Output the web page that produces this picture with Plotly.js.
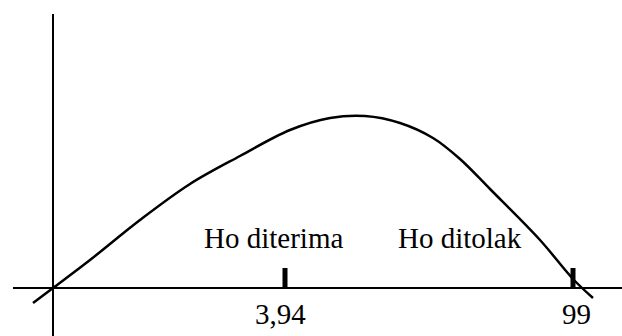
<!DOCTYPE html>
<html>
<head>
<meta charset="utf-8">
<script src="https://cdn.plot.ly/plotly-3.0.1.min.js"></script>
<style>
  html, body { margin: 0; padding: 0; background: #fff; }
  #chart { width: 622px; height: 336px; }
</style>
</head>
<body>
<div id="chart"></div>
<script>
// Sketch of the test-statistic distribution with the acceptance / rejection regions
const curveX = [-20, 0, 37, 87, 137, 187, 237, 277, 312, 347, 380, 407, 437, 487, 520, 540];
const curveY = [-15, 0, 28, 68, 104, 132, 158, 170, 172, 165, 150, 129, 99, 48, 9, -10];

// Critical points marked on the horizontal axis
const tickVals = [232, 520];
const tickText = ['3,94', '99'];
const tickHeight = 20;

// Region labels
const regionLabels = ['Ho diterima', 'Ho ditolak'];
const regionX = [220, 407];
const regionY = [50, 50];

const serif = 'Liberation Serif, Times New Roman, serif';

// Tick marks as short thick segments
const tmX = [], tmY = [];
tickVals.forEach(v => { tmX.push(v, v, null); tmY.push(0, tickHeight, null); });

const traces = [
  {
    x: curveX, y: curveY, mode: 'lines', type: 'scatter',
    line: { color: '#000', width: 2.5, shape: 'spline', smoothing: 1 },
    hoverinfo: 'skip'
  },
  {
    x: tmX, y: tmY, mode: 'lines', type: 'scatter',
    line: { color: '#000', width: 5 },
    hoverinfo: 'skip'
  }
];

// Hand-lettered labels sit slightly off their tick marks
const labelShift = [-5, 3];

const annotations = [];
tickVals.forEach((v, i) => {
  annotations.push({
    x: v, y: -26, xref: 'x', yref: 'y', text: tickText[i], showarrow: false,
    xanchor: 'center', yanchor: 'middle', xshift: labelShift[i],
    font: { family: serif, size: 29, color: '#000' }
  });
});
regionLabels.forEach((t, i) => {
  annotations.push({
    x: regionX[i], y: regionY[i], xref: 'x', yref: 'y', text: t, showarrow: false,
    xanchor: 'center', yanchor: 'middle',
    font: { family: serif, size: 29, color: '#000' }
  });
});

const layout = {
  width: 622, height: 336,
  margin: { l: 13, r: 0, t: 14, b: 0 },
  paper_bgcolor: '#fff', plot_bgcolor: '#fff',
  showlegend: false,
  font: { family: serif },
  xaxis: {
    range: [-40, 569], showgrid: false, showticklabels: false, ticks: '',
    zeroline: true, zerolinecolor: '#000', zerolinewidth: 2, showline: false
  },
  yaxis: {
    range: [-48, 274], showgrid: false, showticklabels: false, ticks: '',
    zeroline: true, zerolinecolor: '#000', zerolinewidth: 2, showline: false
  },
  annotations: annotations
};

Plotly.newPlot('chart', traces, layout, { staticPlot: true, displayModeBar: false });
</script>
</body>
</html>
